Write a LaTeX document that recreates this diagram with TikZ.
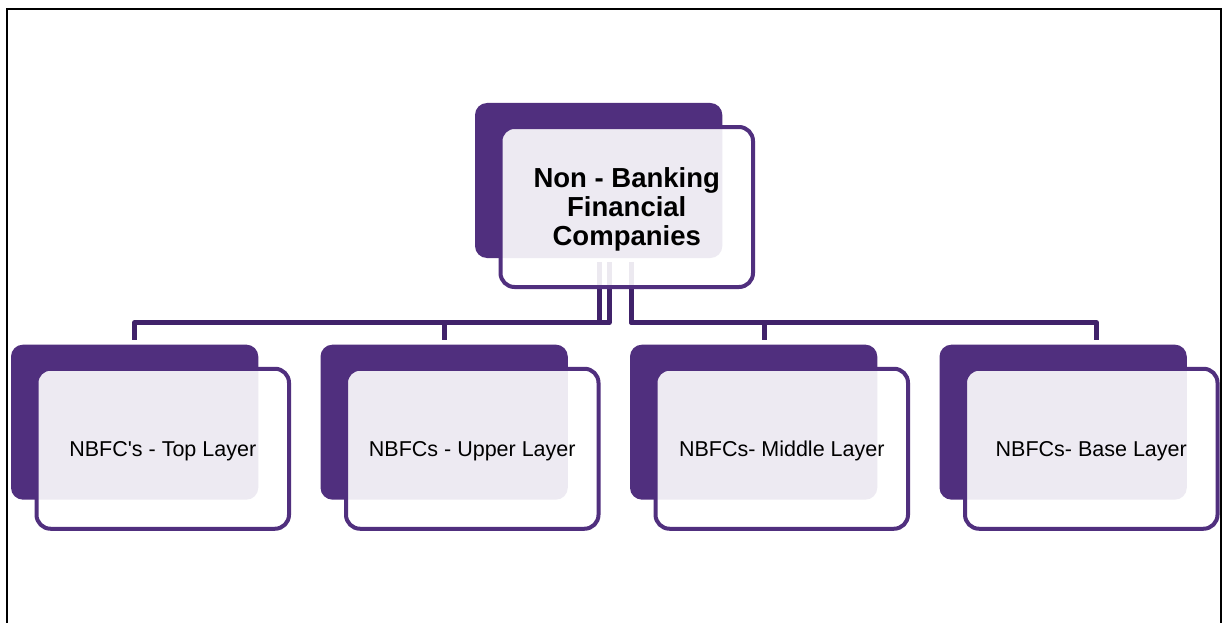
\documentclass[tikz,border=0pt]{standalone}
\usepackage{fontspec}
\setmainfont{Liberation Sans}
\usetikzlibrary{calc}
\definecolor{nbpurple}{RGB}{80,47,126}
\definecolor{nbline}{RGB}{64,34,106}
\begin{document}
\begin{tikzpicture}[x=1pt,y=-1pt,
  backbox/.style={fill=nbpurple, rounded corners=12pt, minimum width=247.3pt, minimum height=155pt, inner sep=0pt, outer sep=0pt},
  frontbox/.style={fill=white, fill opacity=0.9, draw=nbpurple, line width=4pt, rounded corners=14pt, minimum width=252.5pt, minimum height=160pt, inner sep=0pt, outer sep=0pt},
  childtext/.style={inner sep=0pt, font=\fontsize{21.5}{25}\selectfont},
  toptext/.style={inner sep=0pt, align=center, font=\bfseries\fontsize{27.5}{29}\selectfont},
  conn/.style={draw=nbline, line width=5pt, line join=round}]
\useasboundingbox (0,0) rectangle (1222,623);
\fill[white] (0,0) rectangle (1222,623);
\draw[black, line width=2.4pt] (7,623) -- (7,9) -- (1221,9) -- (1221,623);
% back boxes
\node[backbox] (pb) at (598.65,180.5) {};
\node[backbox] (c1b) at (134.65,422.15) {};
\node[backbox] (c2b) at (444.15,422.15) {};
\node[backbox] (c3b) at (753.65,422.15) {};
\node[backbox] (c4b) at (1063.15,422.15) {};
% connectors
\coordinate (bar) at (0,322.5);
\coordinate (p1) at ([xshift=1pt,yshift=-4pt]pb.south);
\coordinate (p2) at ([xshift=10.5pt,yshift=-4pt]pb.south);
\coordinate (p3) at ([xshift=33pt,yshift=-4pt]pb.south);
\coordinate (k1) at ([yshift=5pt]c1b.north);
\coordinate (k2) at ([yshift=5pt]c2b.north);
\coordinate (k3) at ([xshift=11pt,yshift=5pt]c3b.north);
\coordinate (k4) at ([xshift=33pt,yshift=5pt]c4b.north);
\draw[conn] (p1) |- (bar -| k1) -- (k1);
\draw[conn] (p2) |- (bar -| k2) -- (k2);
\draw[conn] (p3) |- (bar -| k3) -- (k3);
\draw[conn] (p3) |- (bar -| k4) -- (k4);
% front boxes
\node[frontbox] (pf) at ($(pb)+(28.1,26.5)$) {};
\node[frontbox] (c1f) at ($(c1b)+(28.1,26.6)$) {};
\node[frontbox] (c2f) at ($(c2b)+(28.1,26.6)$) {};
\node[frontbox] (c3f) at ($(c3b)+(28.1,26.6)$) {};
\node[frontbox] (c4f) at ($(c4b)+(28.1,26.6)$) {};
% texts
\node[toptext] (pt) at ([yshift=-2.5pt]pf.center) {Non - Banking\\Financial\\Companies};
\node[childtext] (c1t) at ([yshift=-2pt]c1f.center) {NBFC\textquotesingle s - Top Layer};
\node[childtext] (c2t) at ([yshift=-2pt]c2f.center) {NBFCs - Upper Layer};
\node[childtext] (c3t) at ([yshift=-2pt]c3f.center) {NBFCs- Middle Layer};
\node[childtext] (c4t) at ([yshift=-2pt]c4f.center) {NBFCs- Base Layer};
\end{tikzpicture}
\end{document}
